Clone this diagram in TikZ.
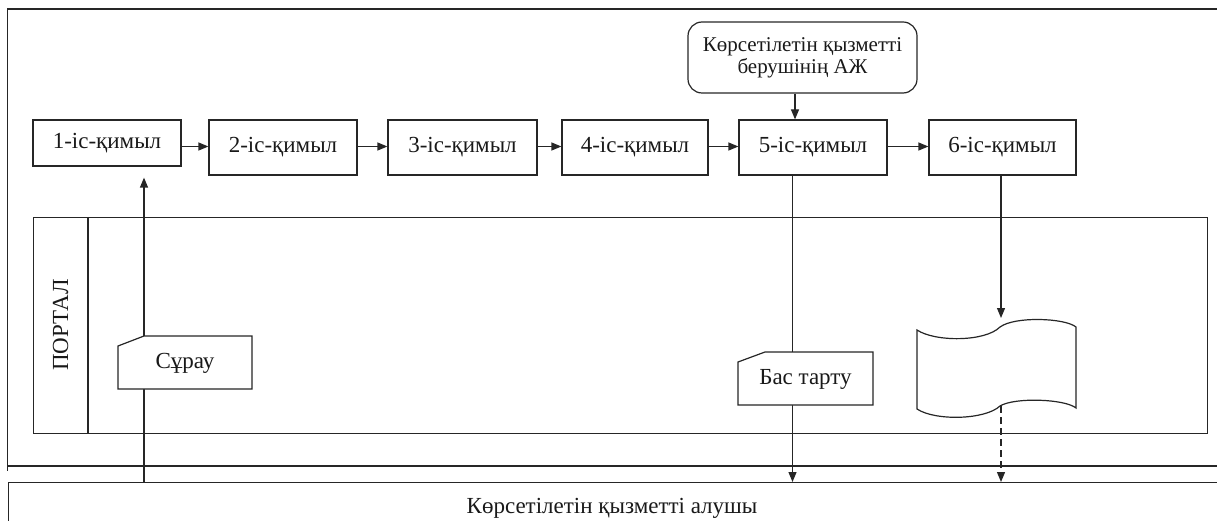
\documentclass[tikz,border=0pt]{standalone}
\usepackage{fontspec}
\setmainfont{Liberation Serif}
\usetikzlibrary{arrows.meta,calc}
\begin{document}
\begin{tikzpicture}[x=1pt,y=-1pt,
  ln/.style={line width=1.2pt, draw=black!85},
  arr/.style={ln, -{Triangle[length=10pt,width=8pt]}},
  txt/.style={font=\fontsize{23}{27}\selectfont, text=black!90, inner sep=0pt},
  stepbox/.style={ln, draw, rectangle, minimum width=148pt, minimum height=55pt, inner sep=0pt, txt},
  cardline/.style={ln, fill=white},
  dsh/.style={arr, dash pattern=on 7pt off 4pt}]
\useasboundingbox (0,0) rectangle (1217,521);
\clip (0,0) rectangle (1217,521);

% outer frame
\draw[ln] (1240,9) -- (7.5,9) -- (7.5,471);
\draw[ln] (7.5,466) -- (1240,466);

% receiver lane
\node[ln, draw, anchor=north west, minimum width=1250pt, minimum height=80pt, inner sep=0pt] (recv) at (7.5,482) {};
\node[txt, anchor=base] (recvt) at (612,513) {Көрсетілетін қызметті алушы};

% portal lane
\node[ln, draw, anchor=north west, minimum width=1174pt, minimum height=216pt, inner sep=0pt] (portal) at (33,217) {};
\draw[ln] ([xshift=55pt]portal.north west) -- ([xshift=55pt]portal.south west);
\node[txt, rotate=90] (plabel) at (60.5,325) {ПОРТАЛ};

% steps
\node[stepbox, minimum height=46pt] (b1) at (107,143) {1-іс-қимыл};
\node[stepbox] (b2) at (283,147.5) {2-іс-қимыл};
\node[stepbox, minimum width=149pt] (b3) at (462.5,147.5) {3-іс-қимыл};
\node[stepbox, minimum width=146pt] (b4) at (635,147.5) {4-іс-қимыл};
\node[stepbox] (b5) at (813,147.5) {5-іс-қимыл};
\node[stepbox, minimum width=147pt] (b6) at (1002.5,147.5) {6-іс-қимыл};

\node[ln, draw, rounded corners=14pt, minimum width=229pt, minimum height=71pt, inner sep=0pt, align=center, font=\fontsize{21}{21}\selectfont, text=black!90] (aj) at (802.5,57.5) {Көрсетілетін қызметті\\[1pt]берушінің АЖ};

% helper coordinates
\coordinate (ay) at (0,146.5);
\coordinate (xa) at (795,0);
\coordinate (xq) at (144,0);
\coordinate (x5) at (792.5,0);
\coordinate (x6) at (1001,0);
\coordinate (doctop) at (1001,318);
\coordinate (docbot) at (1001,406);

% horizontal flow
\draw[arr] (b1.east |- ay) -- (b2.west |- ay);
\draw[arr] (b2.east |- ay) -- (b3.west |- ay);
\draw[arr] (b3.east |- ay) -- (b4.west |- ay);
\draw[arr] (b4.east |- ay) -- (b5.west |- ay);
\draw[arr] (b5.east |- ay) -- (b6.west |- ay);
\draw[arr] (aj.south -| xa) -- (b5.north -| xa);

% vertical flows
\draw[arr] (recv.north -| xq) -- ($(b1.south -| xq)+(0,11)$);
\draw[arr] (b5.south -| x5) -- (recv.north -| x5);
\draw[arr] (b6.south -| x6) -- (doctop);
\draw[dsh] (docbot) -- (recv.north -| x6);

% request card
\draw[cardline] (118,389) -- (118,346) -- (144,336) -- (252,336) -- (252,389) -- cycle;
\node[txt] (req) at (185,363) {Сұрау};

% refusal card
\draw[cardline] (738,405) -- (738,362) -- (765,352) -- (873,352) -- (873,405) -- cycle;
\node[txt] (refuse) at (805.5,379) {Бас тарту};

% document
\draw[ln, fill=white] (917,330) .. controls (935,342) and (985,342) .. (1000,327)
  .. controls (1015,316) and (1065,318) .. (1076,327) -- (1076,408)
  .. controls (1065,399) and (1015,397) .. (1000,406)
  .. controls (985,420) and (935,421) .. (917,409) -- cycle;
\end{tikzpicture}
\end{document}
